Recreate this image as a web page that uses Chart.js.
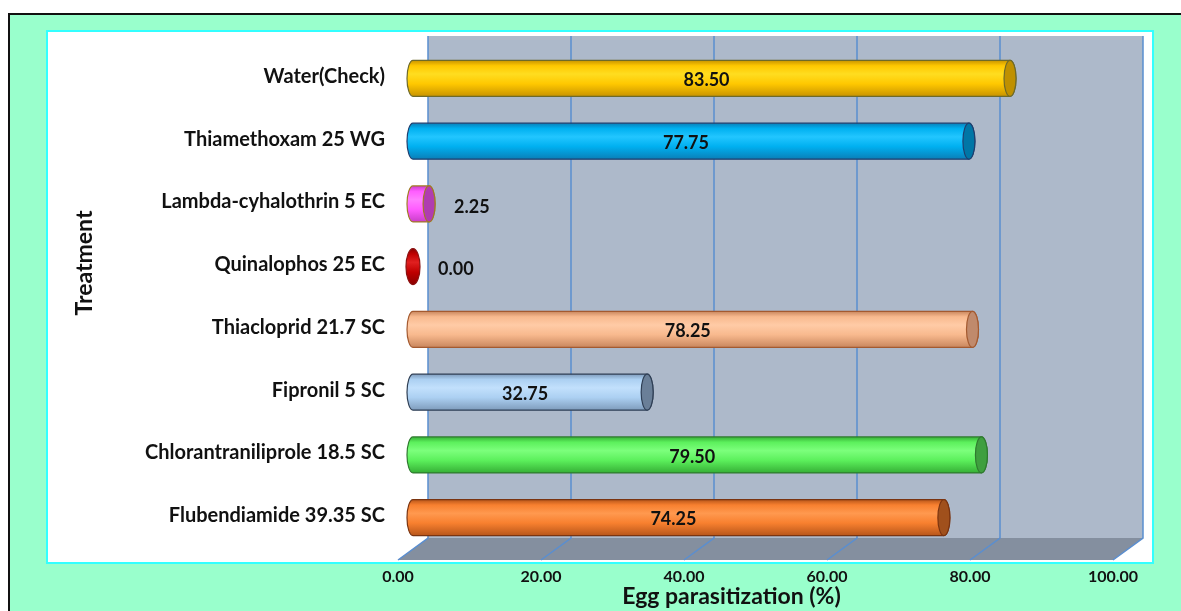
<!DOCTYPE html>
<html>
<head>
<meta charset="utf-8">
<script src="https://cdn.jsdelivr.net/npm/chart.js@4.4.1/dist/chart.umd.min.js"></script>
<style>
  html, body { margin: 0; padding: 0; background: #ffffff; }
  #wrap { position: relative; width: 1181px; height: 611px; }
  canvas { display: block; }
</style>
</head>
<body>
<div id="wrap"><canvas id="chart" width="1181" height="611"></canvas></div>
<script>
// Egg parasitization (%) by insecticide treatment
const treatments = [
  'Water(Check)',
  'Thiamethoxam 25 WG',
  'Lambda-cyhalothrin 5 EC',
  'Quinalophos 25 EC',
  'Thiacloprid 21.7 SC',
  'Fipronil 5 SC',
  'Chlorantraniliprole 18.5 SC',
  'Flubendiamide 39.35 SC'
];
const parasitization = [83.50, 77.75, 2.25, 0.00, 78.25, 32.75, 79.50, 74.25];
const xTickValues = [0, 20, 40, 60, 80, 100];

// Cylinder palettes: [edge shade, body, highlight, end cap, outline]
const palettes = [
  ['#C99400', '#FFC800', '#FFDD20', '#BF9000', '#6E6A2A'],
  ['#0A7FB8', '#00B0F0', '#22C6FF', '#0076A6', '#1F3F6F'],
  ['#C93EC9', '#FF5CFF', '#FF80FF', '#B03CB0', '#A07A24'],
  ['#8A0000', '#C00000', '#E02020', '#C00000', '#8A1010'],
  ['#C9875E', '#F8B98E', '#FFCBA6', '#C08A6C', '#A45A30'],
  ['#7F9CBC', '#ACD0F2', '#C2E0FC', '#6A7F98', '#2F3F55'],
  ['#36B036', '#5CF05C', '#7CFF7C', '#3F9F3F', '#2F7A2F'],
  ['#B8561A', '#F8802F', '#FF994F', '#A0501C', '#7A3410']
];

const FONT = 'Lato, "Open Sans", sans-serif';
const DEPTH_X = 15;   // half of the 3D depth, horizontal
const DEPTH_Y = 11;   // half of the 3D depth, vertical
const CAP_RX = 6;

const scenePlugin = {
  id: 'scene',
  beforeDraw(chart) {
    const ctx = chart.ctx;
    const W = chart.width, H = chart.height;
    const xs = chart.scales.x;
    const area = chart.chartArea;
    ctx.save();
    // page, outer frame and plot box
    ctx.fillStyle = '#ffffff';
    ctx.fillRect(0, 0, W, H);
    ctx.fillStyle = '#99FFCC';
    ctx.fillRect(9, 14, W, H);
    ctx.strokeStyle = '#111111';
    ctx.lineWidth = 2;
    ctx.beginPath();
    ctx.moveTo(9, H + 2); ctx.lineTo(9, 14); ctx.lineTo(W + 2, 14);
    ctx.stroke();
    ctx.fillStyle = '#ffffff';
    ctx.fillRect(47, 31, 1106, 532);
    ctx.strokeStyle = '#33FFFF';
    ctx.lineWidth = 2;
    ctx.strokeRect(47, 31, 1106, 532);

    // back wall and floor
    const x0 = xs.getPixelForValue(0), x1 = xs.getPixelForValue(100);
    const wallTop = area.top - DEPTH_Y, wallBottom = area.bottom - DEPTH_Y;
    const floorFront = area.bottom + DEPTH_Y;
    ctx.fillStyle = '#ADB9CA';
    ctx.fillRect(x0 + DEPTH_X, wallTop, x1 - x0, wallBottom - wallTop);
    ctx.fillStyle = '#848F9F';
    ctx.beginPath();
    ctx.moveTo(x0 + DEPTH_X, wallBottom);
    ctx.lineTo(x1 + DEPTH_X, wallBottom);
    ctx.lineTo(x1 - DEPTH_X, floorFront);
    ctx.lineTo(x0 - DEPTH_X, floorFront);
    ctx.closePath();
    ctx.fill();

    // grid lines on wall and floor
    ctx.strokeStyle = '#5A8ED0';
    ctx.lineWidth = 1.5;
    xs.ticks.forEach(t => {
      const px = xs.getPixelForValue(t.value);
      ctx.beginPath();
      ctx.moveTo(px + DEPTH_X, wallTop);
      ctx.lineTo(px + DEPTH_X, wallBottom);
      ctx.lineTo(px - DEPTH_X, floorFront);
      ctx.stroke();
    });
    ctx.restore();
  },
  afterDatasetsDraw(chart) {
    const ctx = chart.ctx;
    const meta = chart.getDatasetMeta(0);
    const values = chart.data.datasets[0].data;
    ctx.save();
    meta.data.forEach((el, i) => {
      const p = palettes[i];
      const base = el.base, end = el.x, cy = el.y;
      const ry = el.height / 2;
      const top = cy - ry, bottom = cy + ry;
      const g = ctx.createLinearGradient(0, top, 0, bottom);
      g.addColorStop(0, p[0]);
      g.addColorStop(0.15, p[1]);
      g.addColorStop(0.38, p[2]);
      g.addColorStop(0.65, p[1]);
      g.addColorStop(1, p[0]);
      ctx.lineWidth = 1.2;
      ctx.strokeStyle = p[4];
      if (end - base > 0.5) {
        ctx.beginPath();
        ctx.moveTo(end, top);
        ctx.lineTo(base, top);
        ctx.ellipse(base, cy, CAP_RX, ry, 0, -Math.PI / 2, Math.PI / 2, true);
        ctx.lineTo(end, bottom);
        ctx.ellipse(end, cy, CAP_RX, ry, 0, Math.PI / 2, -Math.PI / 2, true);
        ctx.closePath();
        ctx.fillStyle = g;
        ctx.fill();
        ctx.stroke();
        ctx.beginPath();
        ctx.ellipse(end, cy, CAP_RX, ry, 0, 0, Math.PI * 2);
        ctx.fillStyle = p[3];
        ctx.fill();
        ctx.stroke();
      } else {
        ctx.beginPath();
        ctx.ellipse(end, cy, CAP_RX + 1, ry, 0, 0, Math.PI * 2);
        ctx.fillStyle = g;
        ctx.fill();
        ctx.stroke();
      }

      // value label
      const v = values[i];
      ctx.fillStyle = '#111111';
      ctx.font = 'bold 18px ' + FONT;
      ctx.textBaseline = 'middle';
      if (end - base > 60) {
        ctx.textAlign = 'center';
        ctx.fillText(v.toFixed(2), (base + end) / 2 - 5, cy + 2);
      } else {
        ctx.textAlign = 'left';
        ctx.fillText(v.toFixed(2), end + 25, cy + 3);
      }
    });
    ctx.restore();
  },
  afterDraw(chart) {
    const ctx = chart.ctx;
    const xs = chart.scales.x;
    ctx.save();
    ctx.fillStyle = '#111111';
    ctx.font = 'bold 23px ' + FONT;
    ctx.textAlign = 'center';
    ctx.textBaseline = 'middle';
    const mid = (xs.getPixelForValue(0) + xs.getPixelForValue(100)) / 2 - DEPTH_X;
    ctx.fillText('Egg parasitization (%)', mid - 24, 597);
    ctx.translate(85, 263);
    ctx.rotate(-Math.PI / 2);
    ctx.font = 'bold 23px ' + FONT;
    ctx.fillText('Treatment', 0, 0);
    ctx.restore();
  }
};

new Chart(document.getElementById('chart'), {
  type: 'bar',
  data: {
    labels: treatments,
    datasets: [{
      label: 'Egg parasitization (%)',
      data: parasitization,
      backgroundColor: 'rgba(0,0,0,0)',
      borderWidth: 0,
      barThickness: 36
    }]
  },
  options: {
    indexAxis: 'y',
    responsive: false,
    animation: false,
    devicePixelRatio: 1,
    layout: { padding: { left: 0, top: 47, right: 53, bottom: 0 } },
    plugins: {
      legend: { display: false },
      tooltip: { enabled: false }
    },
    scales: {
      x: {
        min: 0,
        max: 100,
        afterBuildTicks(scale) { scale.ticks = xTickValues.map(v => ({ value: v })); },
        afterFit(scale) { scale.height = 62; },
        grid: { display: false },
        border: { display: false },
        ticks: {
          color: '#111111',
          font: { family: FONT, size: 16, weight: 'bold' },
          padding: 10,
          labelOffset: -DEPTH_X,
          maxRotation: 0,
          autoSkip: false,
          callback: v => Number(v).toFixed(2)
        }
      },
      y: {
        afterFit(scale) { scale.width = 413; },
        grid: { display: false },
        border: { display: false },
        ticks: {
          color: '#111111',
          font: { family: FONT, size: 20, weight: 'bold' },
          padding: 20,
          labelOffset: -2,
          autoSkip: false
        }
      }
    }
  },
  plugins: [scenePlugin]
});
</script>
</body>
</html>
